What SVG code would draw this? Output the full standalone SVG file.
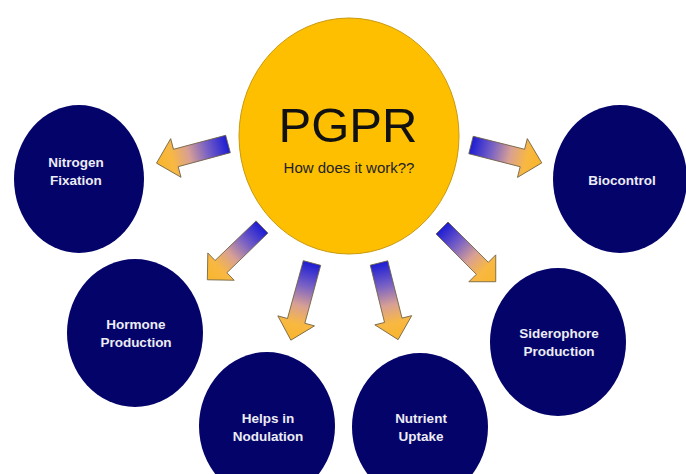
<svg xmlns="http://www.w3.org/2000/svg" width="686" height="474" viewBox="0 0 686 474">
<defs>
<linearGradient id="ag" x1="0" y1="0" x2="1" y2="0">
<stop offset="0" stop-color="#1c1cd4"/>
<stop offset="0.3" stop-color="#7a62c4"/>
<stop offset="0.55" stop-color="#d8a094"/>
<stop offset="0.78" stop-color="#f8b842"/>
<stop offset="1" stop-color="#f9b52c"/>
</linearGradient>
</defs>
<style>
.node{fill:#03036a;}
.lbl{font-family:"Liberation Sans",Arial,sans-serif;font-weight:bold;font-size:13.5px;fill:#ececf4;text-anchor:middle;}
.a{fill:url(#ag);stroke:#6e6040;stroke-width:0.8;stroke-linejoin:miter;}
</style>
<rect width="686" height="474" fill="#ffffff"/>
<g id="connectors">
<path class="a" transform="translate(228,144) rotate(165)" d="M0,-9 L54,-9 L54,-20 L74,0 L54,20 L54,9 L0,9 Z"/>
<path class="a" transform="translate(471,145) rotate(14.2)" d="M0,-9 L53,-9 L53,-20 L73,0 L53,20 L53,9 L0,9 Z"/>
<path class="a" transform="translate(262,227) rotate(136)" d="M0,-8.5 L57,-8.5 L57,-19 L76,0 L57,19 L57,8.5 L0,8.5 Z"/>
<path class="a" transform="translate(312,263) rotate(105.3)" d="M0,-9 L60,-9 L60,-19 L80,0 L60,19 L60,9 L0,9 Z"/>
<path class="a" transform="translate(379,263) rotate(76)" d="M0,-9 L59,-9 L59,-19 L79,0 L59,19 L59,9 L0,9 Z"/>
<path class="a" transform="translate(442,228) rotate(45)" d="M0,-8.5 L57,-8.5 L57,-19 L76,0 L57,19 L57,8.5 L0,8.5 Z"/>
</g>
<g id="pgpr">
<ellipse cx="349" cy="136" rx="110" ry="118" fill="#fdbf00" stroke="#c99a10" stroke-width="1"/>
<text x="348" y="142" font-family="'Liberation Sans',Arial,sans-serif" font-size="49" fill="#111111" text-anchor="middle">PGPR</text>
<text x="349" y="173" font-family="'Liberation Sans',Arial,sans-serif" font-size="15" fill="#222222" text-anchor="middle">How does it work??</text>
</g>
<g id="nitrogen">
<ellipse class="node" cx="79" cy="179" rx="65" ry="74"/>
<text class="lbl" x="76" y="167">Nitrogen</text>
<text class="lbl" x="76" y="185">Fixation</text>
</g>
<g id="biocontrol">
<ellipse class="node" cx="620" cy="179" rx="67" ry="74"/>
<text class="lbl" x="622" y="185">Biocontrol</text>
</g>
<g id="hormone">
<ellipse class="node" cx="135" cy="333" rx="68" ry="74"/>
<text class="lbl" x="136" y="329">Hormone</text>
<text class="lbl" x="136" y="347">Production</text>
</g>
<g id="siderophore">
<ellipse class="node" cx="558" cy="342" rx="68" ry="74"/>
<text class="lbl" x="559" y="338">Siderophore</text>
<text class="lbl" x="559" y="356">Production</text>
</g>
<g id="nodulation">
<ellipse class="node" cx="267" cy="426" rx="68" ry="74"/>
<text class="lbl" x="268" y="423">Helps in</text>
<text class="lbl" x="268" y="441">Nodulation</text>
</g>
<g id="nutrient">
<ellipse class="node" cx="420" cy="427" rx="68" ry="74"/>
<text class="lbl" x="421" y="423">Nutrient</text>
<text class="lbl" x="421" y="441">Uptake</text>
</g>
</svg>
